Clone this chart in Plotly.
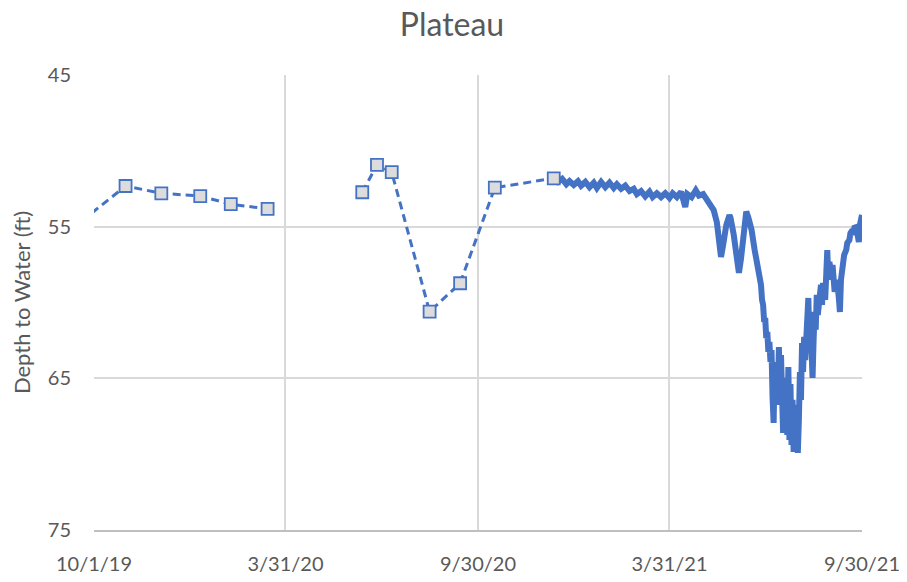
import plotly.graph_objects as go

# Manual (hand) measurements - dashed line with square markers
manual_dates = ["2019-08-31", "2019-10-31", "2019-12-04", "2020-01-10", "2020-02-08", "2020-03-14",
                None,
                "2020-06-12", "2020-06-26", "2020-07-10", "2020-08-15", "2020-09-13", "2020-10-16",
                "2020-12-11"]
manual_depth = [55.7, 52.32, 52.8, 52.98, 53.52, 53.83,
                None,
                52.73, 50.93, 51.41, 60.6, 58.73, 52.43,
                51.81]

# Transducer (logger) record
logger_dates = [
    "2020-12-11", "2020-12-15", "2020-12-19", "2020-12-23", "2020-12-26", "2020-12-30",
    "2021-01-03", "2021-01-06", "2021-01-10", "2021-01-14", "2021-01-18", "2021-01-21",
    "2021-01-25", "2021-01-29", "2021-02-02", "2021-02-06", "2021-02-09", "2021-02-13",
    "2021-02-17", "2021-02-21", "2021-02-25", "2021-02-28", "2021-03-04", "2021-03-08",
    "2021-03-12", "2021-03-15", "2021-03-19", "2021-03-23", "2021-03-27", "2021-03-31",
    "2021-04-03", "2021-04-07", "2021-04-11", "2021-04-15", "2021-04-17", "2021-04-21",
    "2021-04-25", "2021-04-28", "2021-05-02", "2021-05-06", "2021-05-09", "2021-05-12",
    "2021-05-15", "2021-05-17", "2021-05-19", "2021-05-21", "2021-05-24", "2021-05-27",
    "2021-05-28", "2021-05-31", "2021-06-03", "2021-06-05", "2021-06-07", "2021-06-10",
    "2021-06-12", "2021-06-14", "2021-06-17", "2021-06-20", "2021-06-23",
    "2021-06-26", "2021-06-27", "2021-06-28", "2021-06-29", "2021-06-30",
    "2021-07-01", "2021-07-02", "2021-07-03", "2021-07-04", "2021-07-05", "2021-07-06",
    "2021-07-07", "2021-07-08", "2021-07-09", "2021-07-10", "2021-07-11", "2021-07-12",
    "2021-07-13", "2021-07-14", "2021-07-15", "2021-07-16", "2021-07-17", "2021-07-18",
    "2021-07-19", "2021-07-20", "2021-07-21", "2021-07-22", "2021-07-23", "2021-07-24",
    "2021-07-25", "2021-07-26", "2021-07-27", "2021-07-28", "2021-07-29", "2021-07-30",
    "2021-07-31", "2021-08-01", "2021-08-02", "2021-08-03", "2021-08-04", "2021-08-05",
    "2021-08-06", "2021-08-07", "2021-08-08", "2021-08-09", "2021-08-10", "2021-08-11",
    "2021-08-12", "2021-08-13", "2021-08-14", "2021-08-15", "2021-08-16", "2021-08-17",
    "2021-08-18", "2021-08-19",
    "2021-08-21", "2021-08-22", "2021-08-23", "2021-08-24", "2021-08-26", "2021-08-27",
    "2021-08-28", "2021-08-29", "2021-08-30", "2021-09-01", "2021-09-02", "2021-09-04",
    "2021-09-06", "2021-09-08", "2021-09-09", "2021-09-10", "2021-09-12", "2021-09-13",
    "2021-09-15", "2021-09-16", "2021-09-18", "2021-09-19", "2021-09-21", "2021-09-22",
    "2021-09-23", "2021-09-25", "2021-09-26", "2021-09-27", "2021-09-28", "2021-09-29",
    "2021-09-30",
]
logger_depth = [
    51.8, 52.05, 51.85, 52.2, 52.0, 52.25,
    52.0, 52.3, 52.05, 52.4, 52.1, 52.45,
    52.05, 52.4, 52.1, 52.45, 52.2, 52.5,
    52.3, 52.65, 52.5, 52.85, 52.65, 53.0,
    52.7, 53.05, 52.8, 53.05, 52.8, 53.1,
    52.8, 53.05, 52.7, 53.7, 52.85, 53.05,
    52.6, 52.95, 52.85, 53.25, 53.5, 53.9,
    54.7, 55.75, 57.0, 56.2, 54.9, 54.25,
    54.4, 55.5, 57.2, 58.05, 57.1, 55.35,
    54.0, 54.4, 55.2, 56.55, 57.7,
    58.84, 59.83, 60.16, 61.28, 61.02,
    62.34, 61.94, 63.26, 62.6, 63.92, 63.13,
    66.29, 67.94, 63.92, 65.9, 64.12, 66.29,
    62.93, 66.75, 63.46, 67.41, 68.6, 64.97,
    68.27, 66.09, 68.73, 64.25, 69.06, 65.38,
    69.39, 66.42, 69.85, 67.22, 69.72, 66.75,
    69.92, 67.74, 64.58, 66.42, 62.67, 64.58,
    62.27, 63.79, 62.14, 60.82, 59.7, 62.8,
    62.34, 63.13, 64.97, 62.47, 60.62, 61.81,
    59.5, 60.82,
    59.83, 58.84, 60.16, 58.71, 59.83, 57.52,
    56.54, 58.51, 57.33, 58.18, 57.52, 59.3,
    58.51, 59.7, 60.62, 58.51, 57.33, 56.87,
    56.54, 56.07, 55.88, 55.42, 55.22, 55.55,
    54.95, 55.09, 55.61, 56.01, 54.89, 54.56,
    54.23,
]

tick_vals = ["2019-10-01", "2020-03-31", "2020-09-30", "2021-03-31", "2021-09-30"]
tick_text = ["10/1/19", "3/31/20", "9/30/20", "3/31/21", "9/30/21"]
y_ticks = [45, 55, 65, 75]

BLUE = "#4472C4"
GRID = "#D9D9D9"
TXT = "#595959"
FONT = "Lato, 'Open Sans', sans-serif"

fig = go.Figure()
fig.add_trace(go.Scatter(
    x=logger_dates, y=logger_depth, mode="lines",
    line=dict(color=BLUE, width=6), showlegend=False))
fig.add_trace(go.Scatter(
    x=manual_dates, y=manual_depth, mode="lines+markers",
    connectgaps=False,
    line=dict(color=BLUE, width=3, dash="8px,5px"),
    marker=dict(symbol="square", size=12, color="#DCDCDC",
                line=dict(color=BLUE, width=1.8)),
    showlegend=False))

# The page body keeps its default 8px margin; the figure margins compensate for it
fig.update_layout(
    width=907, height=582,
    paper_bgcolor="white", plot_bgcolor="white",
    margin=dict(l=82, r=53, t=67, b=60),
    font=dict(family=FONT, color=TXT, size=20),
    title=dict(text="Plateau", x=0.4895, xanchor="center", y=0.99, yanchor="top",
               font=dict(family=FONT, size=32, color=TXT)),
)
fig.update_xaxes(
    type="date", range=["2019-10-01", "2021-09-30"],
    tickmode="array", tickvals=tick_vals, ticktext=tick_text,
    showgrid=True, gridcolor=GRID, gridwidth=1.5,
    showline=True, linecolor="#BFBFBF", linewidth=1.5,
    ticks="outside", ticklen=15, tickcolor="rgba(0,0,0,0)",
    tickfont=dict(size=20, color=TXT), zeroline=False)
fig.update_yaxes(
    range=[75, 45], tickmode="array", tickvals=y_ticks,
    showgrid=True, gridcolor=GRID, gridwidth=1.5,
    showline=False, zeroline=False,
    ticks="outside", ticklen=18, tickcolor="rgba(0,0,0,0)",
    tickfont=dict(size=20, color=TXT),
    title=dict(text="Depth to Water (ft)", font=dict(size=22, color=TXT), standoff=12))

fig.write_html("out.html", config={"displayModeBar": False})
